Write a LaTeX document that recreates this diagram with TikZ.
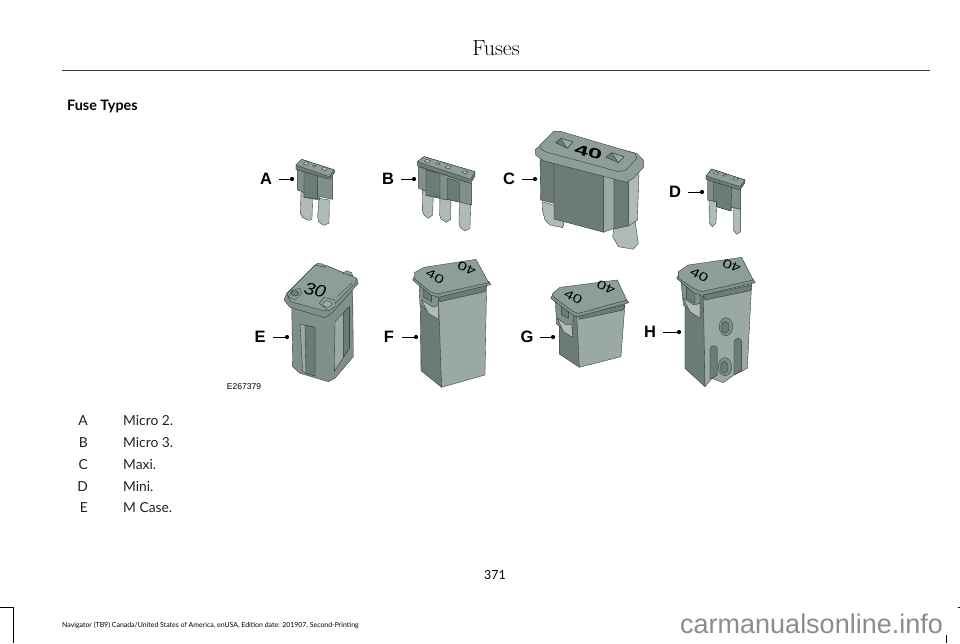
\documentclass[tikz,border=0pt]{standalone}
\usepackage{fontspec}
\setsansfont{Lato}
\newfontfamily\numfont{Liberation Sans}
\usetikzlibrary{positioning}
\definecolor{fuseline}{HTML}{2E3534}
\definecolor{fusedark}{HTML}{6C7B78}
\definecolor{fusemid}{HTML}{7F8F8A}
\definecolor{fuselight}{HTML}{9AA9A3}
\definecolor{fusepale}{HTML}{B0BBB5}
\definecolor{fusetop}{HTML}{8D9D97}
\definecolor{txtgray}{HTML}{222222}
\definecolor{markgray}{HTML}{8C8C8C}
\newcommand{\widenum}[2][1.4]{\scalebox{#1}[1]{#2}}
\tikzset{
  part/.style={draw=fuseline,line width=0.35pt,line join=round,fill=#1},
  part/.default=fusemid,
  fusenum/.style={font=\numfont\fontsize{#1}{#1}\selectfont,text=black,inner sep=0pt},
  fusenum/.default=12,
  tag/.style={font=\numfont\bfseries\fontsize{16.5}{16.5}\selectfont,minimum width=26pt,inner sep=0pt,text=black},
  tipdot/.style={circle,fill=black,inner sep=0pt,minimum size=4.2pt},
  listkey/.style={font=\sffamily\fontsize{13.8}{13.8}\selectfont,anchor=east,inner sep=0pt,text=txtgray},
  listval/.style={font=\sffamily\fontsize{13.8}{13.8}\selectfont,anchor=west,inner sep=0pt,text=txtgray}
}
\begin{document}
\begin{tikzpicture}[x=1pt,y=-1pt]
  \useasboundingbox (0,0) rectangle (960,643);
  \fill[white] (0,0) rectangle (960,643);
  % page furniture
  \node[font=\fontsize{22}{22}\selectfont,inner sep=0pt] (pagetitle) at (496,48) {Fuses};
  \coordinate (ruleL) at (62,70);
  \coordinate (ruleR) at (930,70);
  \draw[line width=0.8pt,fuseline] (ruleL) -- (ruleR);
  \node[font=\sffamily\bfseries\fontsize{14.4}{14.4}\selectfont,anchor=west,inner sep=0pt] (section) at (67,106) {Fuse Types};
  \node[font=\numfont\fontsize{8.5}{8.5}\selectfont,inner sep=0pt] (figcode) at (244,387) {E267379};
  \foreach \key/\val/\ypos in {A/Micro 2./421,B/Micro 3./443,C/Maxi./465,D/Mini./487,E/M Case./508}{
    \node[listkey] (key\key) at (88,\ypos) {\key};
    \node[listval] (val\key) at (123,\ypos) {\val};
  }
  \node[font=\sffamily\fontsize{12.5}{12.5}\selectfont,inner sep=0pt] (pagenum) at (495,575) {371};
  \node[font=\sffamily\fontsize{6.95}{6.95}\selectfont,anchor=west,inner sep=0pt] (footer) at (62,625) {Navigator (TB9) Canada/United States of America, enUSA, Edition date: 201907, Second-Printing};
  \node[font=\numfont\fontsize{27}{27}\selectfont,text=markgray,anchor=base west,inner sep=0pt] (watermark) at (680,633) {carmanualsonline.info};
  \draw[line width=0.6pt] (0,607) -- (13,607) -- (13,643);
  \draw[line width=0.6pt] (946,635) -- (946,643);
  \draw[line width=0.6pt] (958,607) -- (960,607);
  % callouts
  \foreach \name/\lx/\ly/\dx in {A/266/179/292,B/388/179/414,C/509/179/535,D/675/192/702,E/260/337/287,F/389/337/416,G/527/337/553,H/650/332/679}{
    \node[tag] (tag\name) at (\lx,\ly) {\name};
    \node[tipdot] (tip\name) at (\dx,\ly) {};
    \draw[line width=0.6pt] (tag\name.east) -- (tip\name);
  }
  % micro 2
  \begin{scope}[shift={(240,120)},scale=0.3333]
    \draw[part=fusepale] (183,215) -- (218,225) -- (216,298) -- (205,301) -- (188,293) -- (181,280) -- cycle;
    \draw[part=fusepale] (237,235) -- (268,240) -- (267,310) -- (250,316) -- (236,305) -- (233,290) -- cycle;
    \draw[part=fusemid] (172,150) -- (278,170) -- (278,238) -- (240,230) -- (238,240) -- (192,232) -- (192,217) -- (172,210) -- cycle;
    \draw[part=fusedark] (192,155) -- (232,165) -- (232,236) -- (192,232) -- cycle;
    \draw[part=fusedark] (168,135) -- (185,118) -- (283,150) -- (283,158) -- (270,178) -- (168,148) -- cycle;
    \draw[part=fusetop] (168,135) -- (185,118) -- (283,150) -- (268,170) -- cycle;
    \draw[part=fusepale] (190,132) -- (196,125) -- (208,129) -- (203,136) -- cycle (245,148) -- (250,141) -- (262,145) -- (257,152) -- cycle;
    \draw[part=fusepale] (218,139) -- (222,135) -- (228,137) -- (224,141) -- cycle;
  \end{scope}
  % micro 3
  \begin{scope}[shift={(240,120)},scale=0.3333]
    \draw[part=fusepale] (548,210) -- (580,222) -- (578,285) -- (565,295) -- (552,285) -- (547,270) -- cycle;
    \draw[part=fusepale] (600,225) -- (633,232) -- (632,298) -- (620,307) -- (603,297) -- (599,285) -- cycle;
    \draw[part=fusepale] (658,245) -- (692,250) -- (690,325) -- (675,333) -- (660,322) -- (657,305) -- cycle;
    \draw[part=fusemid] (536,140) -- (695,190) -- (695,255) -- (622,238) -- (620,240) -- (558,226) -- (558,212) -- (536,205) -- cycle;
    \draw[part=fusedark] (558,150) -- (600,160) -- (600,232) -- (558,226) -- cycle;
    \draw[part=fusedark] (622,175) -- (658,185) -- (658,246) -- (622,238) -- cycle;
    \draw[part=fusedark] (532,125) -- (552,110) -- (705,155) -- (705,168) -- (692,190) -- (532,138) -- cycle;
    \draw[part=fusetop] (532,125) -- (552,110) -- (705,155) -- (692,178) -- cycle;
    \draw[part=fusepale] (553,125) -- (560,118) -- (572,122) -- (566,129) -- cycle (615,143) -- (622,136) -- (634,140) -- (628,147) -- cycle (666,158) -- (672,152) -- (684,156) -- (678,162) -- cycle;
    \draw[part=fusepale] (588,132) -- (592,128) -- (600,130) -- (596,134) -- cycle;
  \end{scope}
  % maxi and mini
  \begin{scope}[shift={(490,120)},scale=0.3333]
    \draw[part=fusepale] (158,245) -- (190,255) -- (222,310) -- (218,323) -- (180,315) -- (165,300) -- (157,270) -- cycle;
    \draw[part=fusepale] (372,320) -- (435,300) -- (445,370) -- (430,388) -- (385,380) -- (368,350) -- cycle;
    \draw[part=fusedark] (150,105) -- (192,120) -- (192,250) -- (152,240) -- cycle;
    \draw[part=fusedark] (192,125) -- (342,165) -- (342,337) -- (192,297) -- cycle;
    \draw[part=fuselight] (340,165) -- (372,170) -- (372,325) -- (340,337) -- cycle;
    \draw[part=fusedark] (372,170) -- (415,170) -- (415,318) -- (372,327) -- cycle;
    \draw[part=fusepale] (415,170) -- (448,130) -- (442,300) -- (415,318) -- cycle;
    \draw[part=fusetop] (135,90) -- (190,40) -- (440,100) -- (460,120) -- (462,140) -- (430,175) -- (410,187) -- (160,122) -- (137,105) -- cycle;
    \draw[part=fusetop] (150,75) -- (190,35) -- (215,35) -- (435,100) -- (440,115) -- (408,150) -- (385,155) -- (165,95) -- (150,85) -- cycle;
    \draw[part=fusedark] (197,68) -- (212,55) -- (248,65) -- (232,85) -- cycle (347,112) -- (365,98) -- (402,110) -- (385,128) -- cycle;
    \draw[part=fuselight] (212,55) -- (248,65) -- (232,85) -- cycle (365,98) -- (402,110) -- (385,128) -- cycle;
    \node[fusenum,font=\numfont\bfseries\fontsize{14}{14}\selectfont,rotate=-15] (numC) at (295,97) {\widenum[1.8]{40}};
    % mini
    \draw[part=fusepale] (657,240) -- (680,245) -- (678,310) -- (667,320) -- (658,310) -- cycle;
    \draw[part=fusepale] (730,262) -- (752,265) -- (752,335) -- (740,343) -- (730,330) -- cycle;
    \draw[part=fusemid] (652,175) -- (752,205) -- (752,268) -- (725,262) -- (723,273) -- (680,260) -- (680,245) -- (652,240) -- cycle;
    \draw[part=fusedark] (670,185) -- (725,200) -- (723,273) -- (680,260) -- (680,245) -- (670,243) -- cycle;
    \draw[part=fusedark] (648,168) -- (665,147) -- (765,180) -- (765,188) -- (750,210) -- (648,178) -- cycle;
    \draw[part=fusetop] (648,168) -- (665,147) -- (765,180) -- (750,200) -- cycle;
    \draw[part=fusepale] (670,160) -- (675,155) -- (687,159) -- (682,164) -- cycle (728,177) -- (733,172) -- (745,176) -- (740,181) -- cycle;
    \draw[part=fusepale] (700,167) -- (704,163) -- (710,165) -- (706,169) -- cycle;
  \end{scope}
  % m case
  \begin{scope}[shift={(220,250)},scale=0.3333]
    \draw[part=fusemid] (215,160) -- (330,190) -- (398,110) -- (400,320) -- (345,385) -- (325,395) -- (240,370) -- (218,350) -- cycle;
    \draw[part=fuselight] (240,222) -- (285,232) -- (285,378) -- (248,365) -- cycle;
    \draw[part=fusedark] (255,226) -- (285,232) -- (285,378) -- (258,370) -- cycle;
    \draw[part=fuselight] (345,215) -- (388,170) -- (388,295) -- (343,365) -- cycle;
    \draw[part=fusedark] (370,190) -- (388,170) -- (388,295) -- (370,323) -- cycle;
    \draw[part=fusemid] (192,150) -- (200,130) -- (285,45) -- (315,45) -- (410,85) -- (415,100) -- (335,190) -- (315,203) -- (210,172) -- cycle;
    \draw[part=fusetop] (200,132) -- (285,45) -- (315,45) -- (410,85) -- (405,100) -- (335,170) -- (315,183) -- (212,155) -- cycle;
    \draw[part=fusetop] (205,140) -- (215,122) -- (240,115) -- (245,130) -- (225,150) -- cycle;
    \draw[part=fusedark] (225,130) ellipse (12 and 8);
    \draw[part=fusetop] (298,160) -- (312,142) -- (345,150) -- (345,170) -- (325,182) -- cycle;
    \draw[part=fuselight] (322,162) ellipse (14 and 10);
    \draw[part=fusetop] (285,45) -- (293,40) -- (308,42) -- (315,52) -- cycle (368,70) -- (380,62) -- (395,68) -- (398,78) -- cycle;
    \draw[line width=0.3pt,fuseline] (352,140) -- (397,98);
    \node[fusenum,font=\numfont\itshape\fontsize{17}{17}\selectfont,rotate=-14] (numE) at (285,120) {\widenum[1.15]{30}};
  \end{scope}
  % jcase tall
  \begin{scope}[shift={(220,250)},scale=0.3333]
    \draw[part=fusedark] (600,100) -- (667,140) -- (665,412) -- (603,362) -- cycle;
    \draw[part=fuselight] (655,130) -- (800,100) -- (795,375) -- (665,412) -- cycle;
    \draw[part=fusedark] (655,140) -- (800,105) -- (795,125) -- (660,155) -- cycle;
    \draw[part=fusemid] (597,95) -- (655,130) -- (655,208) -- (600,165) -- cycle;
    \draw[part=fusepale] (605,150) -- (640,172) -- (655,165) -- (655,208) -- (625,190) -- cycle;
    \draw[part=fusedark] (610,100) -- (635,112) -- (635,155) -- (610,140) -- cycle;
    \draw[part=fusemid] (578,90) -- (585,75) -- (808,95) -- (812,104) -- (655,142) -- (630,134) -- cycle;
    \draw[part=fusetop] (583,68) -- (612,52) -- (768,28) -- (806,98) -- (650,132) -- (628,124) -- (583,85) -- cycle;
    \node[fusenum,rotate=-28] (numFa) at (645,80) {\widenum{40}};
    \node[fusenum,rotate=157] (numFb) at (740,55) {\widenum{40}};
  \end{scope}
  % jcase short
  \begin{scope}[shift={(510,250)},scale=0.3333]
    \draw[part=fusedark] (148,150) -- (208,190) -- (208,352) -- (148,312) -- cycle;
    \draw[part=fuselight] (200,190) -- (345,160) -- (333,320) -- (208,352) -- cycle;
    \draw[part=fusedark] (205,195) -- (345,165) -- (340,180) -- (208,208) -- cycle;
    \draw[part=fusemid] (135,140) -- (190,185) -- (188,262) -- (140,222) -- cycle;
    \draw[part=fusepale] (142,205) -- (170,225) -- (185,222) -- (188,262) -- (160,245) -- cycle;
    \draw[part=fusedark] (155,160) -- (175,172) -- (175,205) -- (155,195) -- cycle;
    \draw[part=fusemid] (122,145) -- (130,130) -- (350,150) -- (357,158) -- (205,200) -- (190,196) -- cycle;
    \draw[part=fusetop] (128,130) -- (150,112) -- (322,90) -- (350,150) -- (205,190) -- (190,185) -- (130,140) -- cycle;
    \node[fusenum,rotate=-28] (numGa) at (190,142) {\widenum{40}};
    \node[fusenum,rotate=157] (numGb) at (288,112) {\widenum{40}};
  \end{scope}
  % jcase with holes
  \begin{scope}[shift={(510,250)},scale=0.3333]
    \draw[part=fusedark] (525,100) -- (585,145) -- (585,410) -- (525,355) -- cycle;
    \draw[part=fuselight] (580,130) -- (725,100) -- (712,355) -- (672,375) -- (640,398) -- (606,385) -- (585,410) -- cycle;
    \draw[part=fusedark] (580,135) -- (725,105) -- (722,122) -- (585,150) -- cycle;
    \draw[part=fusedark] (600,295) .. controls (605,285) and (620,285) .. (622,295) -- (622,375) -- (606,385) -- (600,385) -- cycle;
    \draw[part=fusedark] (672,275) .. controls (675,262) and (695,262) .. (695,275) -- (695,362) -- (672,375) -- cycle;
    \draw[part=fusemid] (513,95) -- (570,130) -- (570,205) -- (520,165) -- cycle;
    \draw[part=fusepale] (520,145) -- (552,165) -- (570,160) -- (570,205) -- (540,185) -- cycle;
    \draw[part=fusedark] (530,105) -- (555,120) -- (555,160) -- (530,145) -- cycle;
    \draw[part=fusemid] (500,85) -- (508,72) -- (730,88) -- (736,98) -- (575,136) -- (550,128) -- cycle;
    \draw[part=fusetop] (505,65) -- (535,45) -- (695,22) -- (730,90) -- (575,125) -- (550,115) -- (505,85) -- cycle;
    \draw[part=fusemid] (648,230) ellipse (20 and 27);
    \draw[part=fusedark] (646,232) ellipse (11 and 18);
    \draw[part=fusemid] (645,350) ellipse (20 and 27);
    \draw[part=fusedark] (643,352) ellipse (11 and 18);
    \node[fusenum,rotate=-28] (numHa) at (568,75) {\widenum{40}};
    \node[fusenum,rotate=157] (numHb) at (665,48) {\widenum{40}};
  \end{scope}
\end{tikzpicture}
\end{document}
